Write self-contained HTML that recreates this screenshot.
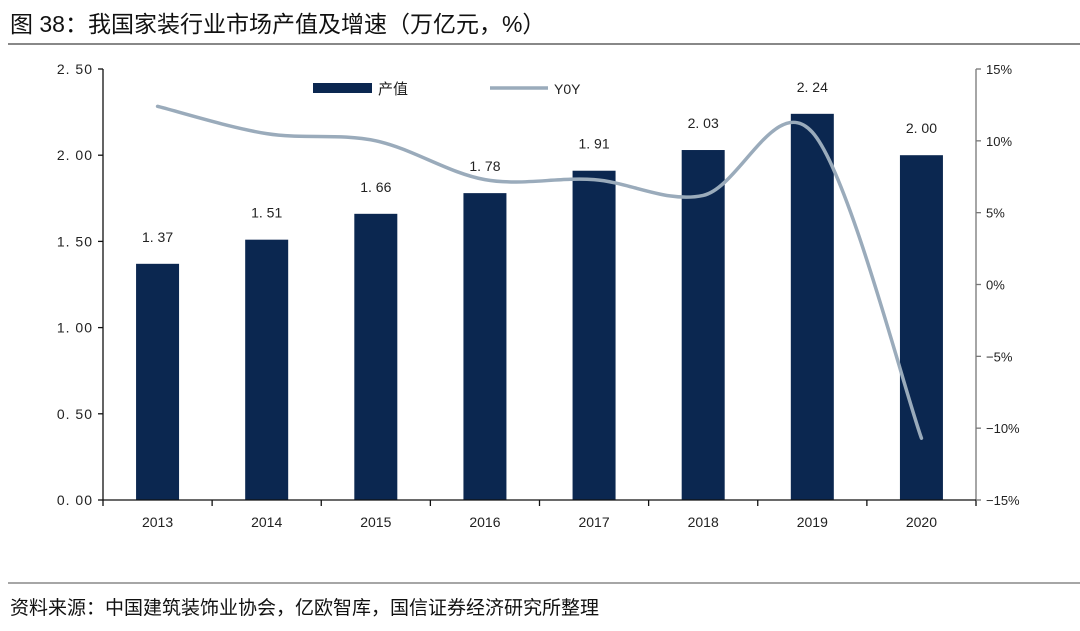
<!DOCTYPE html>
<html><head><meta charset="utf-8"><style>
body{margin:0;background:#fff;width:1080px;height:626px;overflow:hidden;font-family:"Liberation Sans","Noto Sans CJK SC",sans-serif}
</style></head><body>
<svg width="1080" height="626" xmlns="http://www.w3.org/2000/svg">
<text x="10" y="32" font-size="23" fill="#111" font-family="Liberation Sans, Noto Sans CJK SC, sans-serif">图 38：我国家装行业市场产值及增速（万亿元，%）</text>
<line x1="8" y1="44" x2="1080" y2="44" stroke="#888" stroke-width="2"/>
<g id="plot"></g>
<line x1="8" y1="583" x2="1080" y2="583" stroke="#888" stroke-width="1.5"/>
<text x="10" y="614" font-size="19" fill="#111" font-family="Liberation Sans, Noto Sans CJK SC, sans-serif">资料来源：中国建筑装饰业协会，亿欧智库，国信证券经济研究所整理</text>
</svg>
<script>
const categories=["2013","2014","2015","2016","2017","2018","2019","2020"];
const outputValues=[1.37,1.51,1.66,1.78,1.91,2.03,2.24,2.00];
const yoyValues=[12.4,10.5,10.0,7.3,7.3,6.2,10.6,-10.7];
const leftTicks=[0,0.5,1,1.5,2,2.5];
const rightTicks=[-15,-10,-5,0,5,10,15];
const NS="http://www.w3.org/2000/svg";
const g=document.getElementById('plot');
const X0=103,X1=976,Y0=500,Y1=69;
const bw=(X1-X0)/categories.length;
const xc=i=>X0+bw*(i+0.5);
const yl=v=>Y0-(v/2.5)*(Y0-Y1);
const yr=v=>Y0-((v+15)/30)*(Y0-Y1);
function el(t,a,txt){const e=document.createElementNS(NS,t);for(const k in a)e.setAttribute(k,a[k]);if(txt!==undefined)e.textContent=txt;g.appendChild(e);return e;}
outputValues.forEach((v,i)=>{
 const r=el('rect',{x:xc(i)-21.5,y:yl(v),width:43,height:Y0-yl(v),fill:'#0b2750'});
 
 
 const t=el('text',{x:xc(i),y:yl(v)-22,'text-anchor':'middle','font-size':14,fill:'#222'},v.toFixed(2).replace('.','. '));
 
 
 const c=el('text',{x:xc(i),y:527,'text-anchor':'middle','font-size':14,fill:'#222'},categories[i]);
 
 
});
const la=el('line',{x1:X0,y1:Y1,x2:X0,y2:Y0,stroke:'#111','stroke-width':1.3});


const ra=el('line',{x1:X1,y1:Y1,x2:X1,y2:Y0,stroke:'#777','stroke-width':1.3});


const xa=el('line',{x1:X0,y1:Y0,x2:X1,y2:Y0,stroke:'#111','stroke-width':1.3});


for(let i=0;i<=categories.length;i++){el('line',{x1:X0+bw*i,y1:Y0,x2:X0+bw*i,y2:Y0+6,stroke:'#111','stroke-width':1.3});}
leftTicks.forEach(v=>{
 el('line',{x1:X0-5,y1:yl(v),x2:X0,y2:yl(v),stroke:'#111','stroke-width':1.3});
 const t=el('text',{x:X0-10,y:yl(v)+5,'text-anchor':'end','font-size':14,fill:'#222','letter-spacing':'1'},v.toFixed(2).replace('.','. '));
 
 
});
rightTicks.forEach(v=>{
 el('line',{x1:X1,y1:yr(v),x2:X1+5,y2:yr(v),stroke:'#777','stroke-width':1.3});
 const t=el('text',{x:X1+10,y:yr(v)+5,'font-size':13,fill:'#222'},(v<0?'\u2212':'')+Math.abs(v)+'%');
 
 
});
const pts=yoyValues.map((v,i)=>[xc(i),yr(v)]);
let d='M'+pts[0][0]+','+pts[0][1];
for(let i=0;i<pts.length-1;i++){
 const p0=pts[Math.max(0,i-1)],p1=pts[i],p2=pts[i+1],p3=pts[Math.min(pts.length-1,i+2)];
 const c1=[p1[0]+(p2[0]-p0[0])/6,p1[1]+(p2[1]-p0[1])/6];
 const c2=[p2[0]-(p3[0]-p1[0])/6,p2[1]-(p3[1]-p1[1])/6];
 d+=' C'+c1+' '+c2+' '+p2;
}
const ln=el('path',{d:d,fill:'none',stroke:'#9aabbb','stroke-width':3.5,'stroke-linecap':'round'});


const l1=el('rect',{x:313,y:83,width:59,height:10,fill:'#0b2750'});


const l2=el('text',{x:378,y:94,'font-size':15,fill:'#222'},'产值');


const l3=el('line',{x1:490,y1:88,x2:548,y2:88,stroke:'#9aabbb','stroke-width':3.5});


const l4=el('text',{x:554,y:94,'font-size':14,fill:'#222'},'Y0Y');


</script>
</body></html>
